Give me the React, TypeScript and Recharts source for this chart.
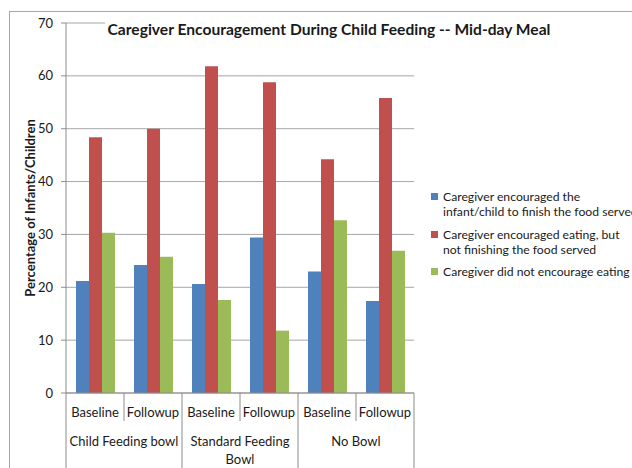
import React from 'react';
import { BarChart, Bar, XAxis, YAxis, CartesianGrid, Legend } from 'recharts';

// bowl groups, each measured at baseline and at follow-up
const groups = ['Child Feeding bowl', 'Standard Feeding\nBowl', 'No Bowl'];
const phases = ['Baseline', 'Followup', 'Baseline', 'Followup', 'Baseline', 'Followup'];

// % of infants/children per feeding behaviour
const encouragedFinish = [21.2, 24.2, 20.6, 29.4, 23.0, 17.4];
const encouragedNotFinish = [48.4, 50.0, 61.8, 58.8, 44.2, 55.8];
const notEncouraged = [30.3, 25.8, 17.6, 11.8, 32.7, 26.9];

const yTicks = [0, 10, 20, 30, 40, 50, 60, 70];

const seriesNames = [
  'Caregiver encouraged the\ninfant/child to finish the food served',
  'Caregiver encouraged eating, but\nnot finishing the food served',
  'Caregiver did not encourage eating',
];
const seriesColors = ['#4f81bd', '#c0504d', '#9bbb59'];

const data = phases.map((phase, i) => ({
  phase,
  group: groups[Math.floor(i / 2)],
  finish: encouragedFinish[i],
  notFinish: encouragedNotFinish[i],
  none: notEncouraged[i],
}));

const FONT = 'Lato, "Open Sans", sans-serif';
const TEXT = '#1a1a1a';
const LINE = '#8c8c8c';

// two-level category axis: phase label, separators and the group name under each pair
const CategoryTick = (props: any) => {
  const { x, y, payload, index } = props;
  const half = payload.offset ?? 29;
  const last = index === phases.length - 1;
  const groupStart = index % 2 === 0;
  return (
    <g fill={TEXT} fontSize={13}>
      <text x={x} y={y + 19} textAnchor="middle" dominantBaseline="central">
        {payload.value}
      </text>
      <line x1={x - half} x2={x - half} y1={y} y2={groupStart ? y + 80 : y + 28} stroke={LINE} />
      {last && <line x1={x + half} x2={x + half} y1={y} y2={y + 80} stroke={LINE} />}
      {groupStart && (
        <text x={x + half} y={y + 48} textAnchor="middle" dominantBaseline="central">
          {data[index].group.split('\n').map((line, k) => (
            <tspan key={line} x={x + half} dy={k === 0 ? 0 : 18}>{line}</tspan>
          ))}
        </text>
      )}
    </g>
  );
};

const LegendContent = (props: any) => (
  <ul style={{ listStyle: 'none', margin: 0, padding: 0, fontFamily: FONT, fontSize: 12.2, lineHeight: '15px', color: TEXT }}>
    {props.payload.map((entry: any) => (
      <li key={entry.dataKey} style={{ display: 'flex', alignItems: 'flex-start', marginBottom: 7.5 }}>
        <span style={{ width: 7, height: 7, background: entry.color, marginTop: 4, marginRight: 5, flex: 'none' }} />
        <span style={{ whiteSpace: 'nowrap' }}>
          {String(entry.value).split('\n').map((line) => (
            <span key={line} style={{ display: 'block' }}>{line}</span>
          ))}
        </span>
      </li>
    ))}
  </ul>
);

export default function App() {
  return (
    <div style={{ position: 'fixed', left: 0, top: 0, width: 632, height: 468, overflow: 'hidden', background: '#fff', fontFamily: FONT }}>
      <div style={{ position: 'absolute', left: 9, top: 11, width: 700, height: 600, border: '1px solid #a6a6a6' }} />
      <BarChart
        width={632}
        height={468}
        data={data}
        margin={{ top: 23, right: 218, bottom: 0, left: 0 }}
        barCategoryGap={10}
        barGap={0}
        style={{ fontFamily: FONT }}
      >
        <CartesianGrid vertical={false} stroke="#a6a6a6" />
        <XAxis
          dataKey="phase"
          height={75}
          stroke={LINE}
          tickLine={false}
          tickSize={0}
          tickMargin={0}
          interval={0}
          tick={<CategoryTick />}
        />
        <YAxis
          width={66}
          domain={[0, 70]}
          ticks={yTicks}
          stroke={LINE}
          tickSize={5}
          tickMargin={8}
          tick={{ fill: TEXT, fontSize: 13 }}
          label={{
            value: 'Percentage of Infants/Children',
            angle: -90,
            position: 'center',
            dx: -3,
            fill: TEXT,
            fontSize: 13,
            fontWeight: 'bold',
          }}
        />
        <Legend
          layout="vertical"
          align="center"
          verticalAlign="middle"
          itemSorter={(item: any) => seriesNames.indexOf(item.value)}
          content={<LegendContent />}
          wrapperStyle={{ left: 431, top: 189, width: 'auto' }}
        />
        <Bar dataKey="finish" name={seriesNames[0]} fill={seriesColors[0]} isAnimationActive={false} />
        <Bar dataKey="notFinish" name={seriesNames[1]} fill={seriesColors[1]} isAnimationActive={false} />
        <Bar dataKey="none" name={seriesNames[2]} fill={seriesColors[2]} isAnimationActive={false} />
      </BarChart>
      <div style={{ position: 'absolute', left: 0, top: 20, width: 658, textAlign: 'center', lineHeight: '18px' }}>
        <span style={{ background: '#fff', padding: '0 3px', fontWeight: 'bold', fontSize: 15.6, color: TEXT }}>
          Caregiver Encouragement During Child Feeding -- Mid-day Meal
        </span>
      </div>
    </div>
  );
}
